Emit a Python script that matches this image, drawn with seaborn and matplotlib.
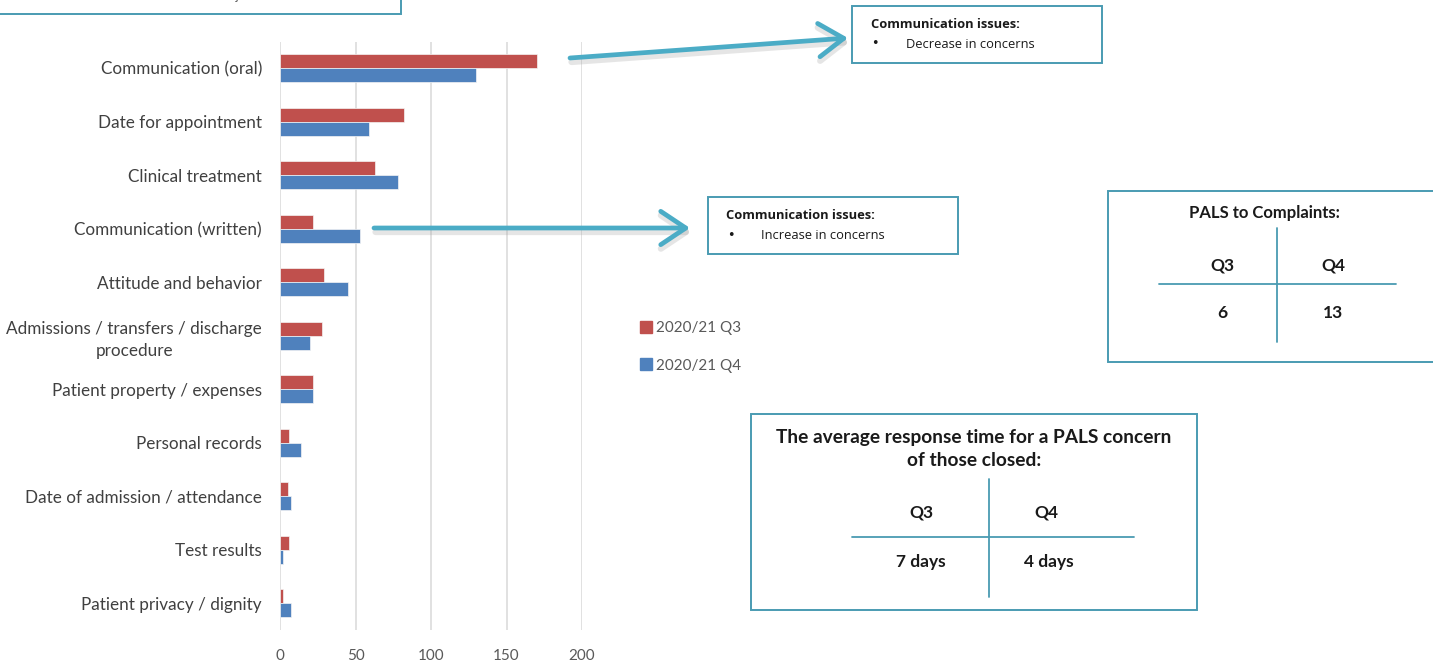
import matplotlib
matplotlib.use("Agg")
import matplotlib.pyplot as plt
from matplotlib.patches import Rectangle, FancyArrowPatch
from matplotlib.lines import Line2D
import seaborn as sns
import pandas as pd

# PALS concerns by subject, two quarters
categories = [
    "Communication (oral)",
    "Date for appointment",
    "Clinical treatment",
    "Communication (written)",
    "Attitude and behavior",
    "Admissions / transfers / discharge\nprocedure",
    "Patient property / expenses",
    "Personal records",
    "Date of admission / attendance",
    "Test results",
    "Patient privacy / dignity",
]
q3_counts = [170, 82, 63, 22, 29, 28, 22, 6, 5, 6, 2]
q4_counts = [130, 59, 78, 53, 45, 20, 22, 14, 7, 2, 7]
series_names = ["2020/21 Q3", "2020/21 Q4"]
x_ticks = [0, 50, 100, 150, 200]

# summary tables
pals_to_complaints = {"Q3": "6", "Q4": "13"}
avg_response = {"Q3": "7 days", "Q4": "4 days"}

RED = "#C0504D"
BLUE = "#4F81BD"
TEAL = "#4BACC6"
BOX = "#4A9BB2"
LABEL = "#404040"
TICK = "#595959"

df = pd.DataFrame({
    "category": categories * 2,
    "count": q3_counts + q4_counts,
    "period": [series_names[0]] * len(categories) + [series_names[1]] * len(categories),
})

sns.set_theme(style="white")
plt.rcParams["font.family"] = ["Lato", "DejaVu Sans"]

W, H = 1433, 662
fig = plt.figure(figsize=(W / 100, H / 100), dpi=100)


def fx(x):
    return x / W


def fy(y):
    return 1 - y / H


ax = fig.add_axes([fx(280), fy(630), fx(582) - fx(280), fy(41.5) - fy(630)])
sns.barplot(data=df, y="category", x="count", hue="period", orient="h",
            palette=[RED, BLUE], saturation=1, width=0.53, ax=ax, legend=False,
            edgecolor="#f4f4f4", linewidth=0.5)
ax.set_xlim(0, 200)
ax.set_ylim(10.5, -0.5)
ax.set_xticks(x_ticks)
ax.set_xticklabels([str(t) for t in x_ticks])
ax.xaxis.grid(True, color="#D9D9D9", linewidth=1.1)
ax.set_axisbelow(True)
for s in ax.spines.values():
    s.set_visible(False)
ax.set_xlabel("")
ax.set_ylabel("")
ax.tick_params(axis="x", length=0, pad=14, labelsize=11, labelcolor=TICK)
ax.tick_params(axis="y", length=0, pad=13, labelsize=12.3, labelcolor=LABEL)
for lbl in ax.get_yticklabels():
    lbl.set_horizontalalignment("right")
    lbl.set_multialignment("center")
    lbl.set_linespacing(1.45)

# legend
handles = [Line2D([], [], marker="s", linestyle="", markersize=8, color=c) for c in (RED, BLUE)]
ax.legend(handles, series_names, loc="center left",
          bbox_to_anchor=(fx(628), fy(347)), bbox_transform=fig.transFigure,
          frameon=False, handlelength=0.6, handletextpad=0.3, labelspacing=1.55,
          prop={"size": 11}, labelcolor=TICK)


def box(x0, y0, x1, y1):
    fig.add_artist(Rectangle((fx(x0), fy(y1)), fx(x1) - fx(x0), fy(y0) - fy(y1),
                             transform=fig.transFigure, fill=True, facecolor="white",
                             edgecolor=BOX, linewidth=1.4, clip_on=False))


def hline(x0, x1, y):
    fig.add_artist(Line2D([fx(x0), fx(x1)], [fy(y), fy(y)], transform=fig.transFigure,
                          color=BOX, linewidth=1.3))


def vline(x, y0, y1):
    fig.add_artist(Line2D([fx(x), fx(x)], [fy(y0), fy(y1)], transform=fig.transFigure,
                          color=BOX, linewidth=1.3))


def txt(x, y, s, **kw):
    kw.setdefault("color", "#1a1a1a")
    fig.text(fx(x), fy(y), s, **kw)


ARROW_STYLE = "->,head_length=0.9,head_width=0.6"


def arrow(x0, y0, x1, y1):
    # soft drop shadow first, then the arrow with an open chevron head
    for dx, dy, col, alpha, lw in ((1.5, 4, "#9a9a9a", 0.25, 4.5), (0, 0, TEAL, 1.0, 3.4)):
        ar = FancyArrowPatch((fx(x0 + dx), fy(y0 + dy)), (fx(x1 + dx), fy(y1 + dy)),
                             transform=fig.transFigure, arrowstyle=ARROW_STYLE,
                             mutation_scale=20, color=col, alpha=alpha, linewidth=lw,
                             shrinkA=0, shrinkB=0, capstyle="round", joinstyle="round")
        fig.add_artist(ar)


# note box running off the top-left edge
box(-10, -40, 401, 14)
txt(14, -4, "Note: PALS can have more than one subject", fontsize=9, color=TICK, va="center")

# arrows to the communication call-outs
arrow(570, 58, 848, 38)
arrow(374, 228, 690, 228)

CALLOUT = ["Open Sans", "DejaVu Sans"]
CS = 9.3

# call-out boxes
box(852, 6, 1102, 63)
txt(871, 25, "Communication issues:", fontsize=CS, fontweight="bold", va="center", family=CALLOUT)
txt(871, 44, "\u2022", fontsize=CS, va="center", family=["DejaVu Sans"])
txt(906, 44, "Decrease in concerns", fontsize=CS, va="center", family=CALLOUT)

box(708, 197, 958, 254)
txt(726, 216, "Communication issues:", fontsize=CS, fontweight="bold", va="center", family=CALLOUT)
txt(727, 236, "\u2022", fontsize=CS, va="center", family=["DejaVu Sans"])
txt(761, 236, "Increase in concerns", fontsize=CS, va="center", family=CALLOUT)

# PALS to complaints table
box(1108, 191, 1440, 362)
txt(1264, 213, "PALS to Complaints:", fontsize=12, fontweight="bold", ha="center", va="center")
vline(1277, 228, 342)
hline(1159, 1396, 284)
txt(1222, 265, "Q3", fontsize=12.5, fontweight="bold", ha="center", va="center")
txt(1333, 265, "Q4", fontsize=12.5, fontweight="bold", ha="center", va="center")
txt(1222, 313, pals_to_complaints["Q3"], fontsize=12.5, fontweight="bold", ha="center", va="center")
txt(1333, 313, pals_to_complaints["Q4"], fontsize=12.5, fontweight="bold", ha="center", va="center")

# average response time table
box(751, 414, 1197, 610)
txt(974, 437, "The average response time for a PALS concern", fontsize=13.8, fontweight="bold",
    ha="center", va="center")
txt(974, 461, "of those closed:", fontsize=13.8, fontweight="bold", ha="center", va="center")
vline(989, 479, 597)
hline(852, 1134, 537)
txt(921, 512, "Q3", fontsize=12.5, fontweight="bold", ha="center", va="center")
txt(1046, 512, "Q4", fontsize=12.5, fontweight="bold", ha="center", va="center")
txt(921, 562, avg_response["Q3"], fontsize=12.5, fontweight="bold", ha="center", va="center")
txt(1049, 562, avg_response["Q4"], fontsize=12.5, fontweight="bold", ha="center", va="center")

fig.savefig("out.png", dpi=100)
